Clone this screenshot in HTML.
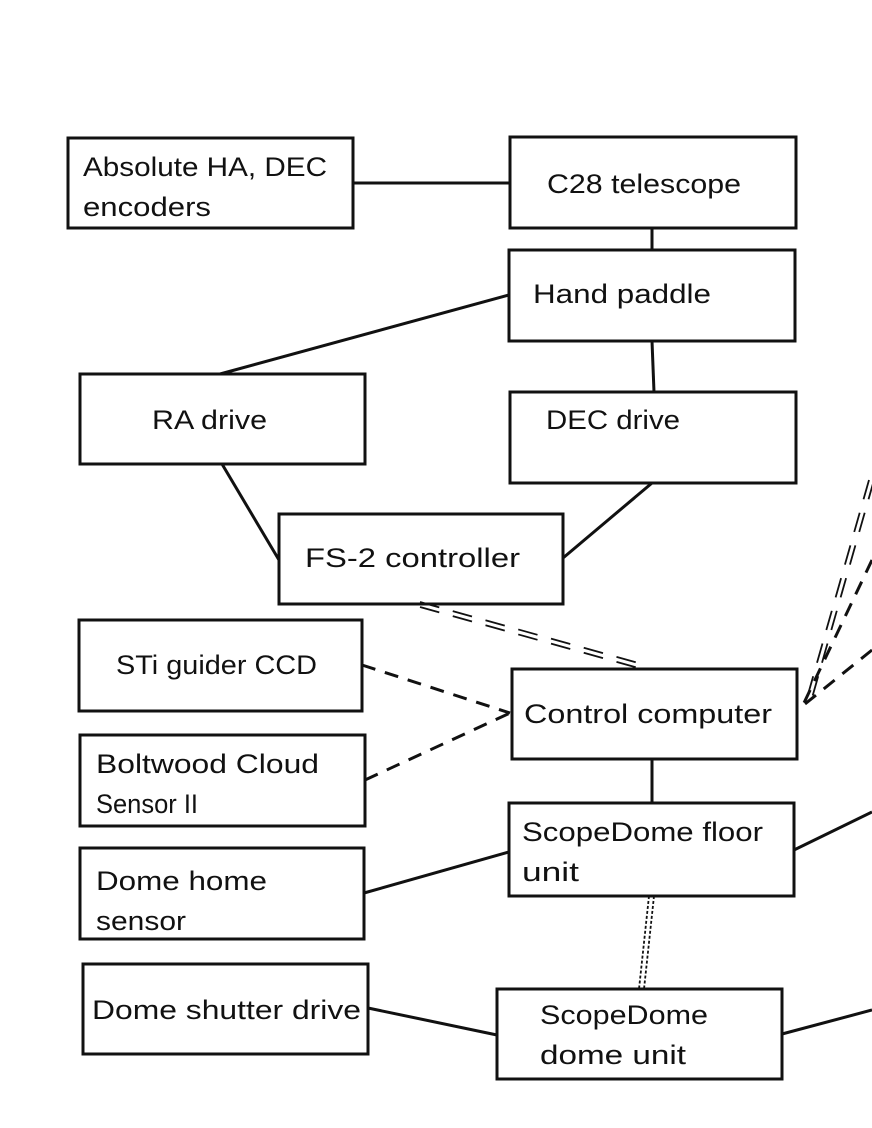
<!DOCTYPE html>
<html><head><meta charset="utf-8"><style>html,body{margin:0;padding:0;background:#fff}svg{display:block}</style></head>
<body>
<svg width="872" height="1128" viewBox="0 0 872 1128" xmlns="http://www.w3.org/2000/svg" font-family="Liberation Sans, sans-serif" font-size="27" fill="#111">
<g stroke="#111" stroke-width="3" fill="none">
<line x1="353" y1="183" x2="510" y2="183"/>
<line x1="652" y1="228" x2="652" y2="250"/>
<line x1="509" y1="295" x2="220" y2="374"/>
<line x1="652" y1="341" x2="654" y2="392"/>
<line x1="222" y1="464" x2="279" y2="560"/>
<line x1="652" y1="483" x2="563" y2="558"/>
<line x1="652" y1="759" x2="652" y2="803"/>
<line x1="364" y1="893" x2="509" y2="852"/>
<line x1="368" y1="1008" x2="497" y2="1035"/>
<line x1="794" y1="850" x2="872" y2="812"/>
<line x1="782" y1="1034" x2="872" y2="1010"/>
<g stroke-dasharray="14,10">
<line x1="362" y1="665" x2="510" y2="713"/>
<line x1="365" y1="780" x2="510" y2="713"/>
<line x1="872" y1="560" x2="803" y2="705"/>
<line x1="872" y1="650" x2="800" y2="708"/>
</g>
<g stroke-width="1.8" stroke-dasharray="20,14">
<line x1="420" y1="602" x2="642" y2="664"/>
<line x1="420" y1="607" x2="642" y2="669"/>
<line x1="869" y1="480" x2="805" y2="705"/>
<line x1="874" y1="480" x2="810" y2="705"/>
</g>
<g stroke-width="1.8" stroke-dasharray="3,2">
<line x1="649" y1="896" x2="639" y2="989"/>
<line x1="654" y1="896" x2="644" y2="989"/>
</g>
<rect x="68" y="138" width="285" height="90"/>
<rect x="510" y="137" width="286" height="91"/>
<rect x="509" y="250" width="286" height="91"/>
<rect x="80" y="374" width="285" height="90"/>
<rect x="510" y="392" width="286" height="91"/>
<rect x="279" y="514" width="284" height="90"/>
<rect x="79" y="620" width="283" height="91"/>
<rect x="512" y="669" width="285" height="90"/>
<rect x="80" y="735" width="285" height="91"/>
<rect x="509" y="803" width="285" height="93"/>
<rect x="80" y="848" width="284" height="91"/>
<rect x="83" y="964" width="285" height="90"/>
<rect x="497" y="989" width="285" height="90"/>
</g>
<g>
<text x="83" y="176" textLength="244" lengthAdjust="spacingAndGlyphs">Absolute HA, DEC</text>
<text x="83" y="216" textLength="128" lengthAdjust="spacingAndGlyphs">encoders</text>
<text x="547" y="193" textLength="194" lengthAdjust="spacingAndGlyphs">C28 telescope</text>
<text x="533" y="303" textLength="178" lengthAdjust="spacingAndGlyphs">Hand paddle</text>
<text x="152" y="429" textLength="115" lengthAdjust="spacingAndGlyphs">RA drive</text>
<text x="546" y="429" textLength="134" lengthAdjust="spacingAndGlyphs">DEC drive</text>
<text x="305" y="567" textLength="215" lengthAdjust="spacingAndGlyphs">FS-2 controller</text>
<text x="116" y="674" textLength="201" lengthAdjust="spacingAndGlyphs">STi guider CCD</text>
<text x="524" y="723" textLength="248" lengthAdjust="spacingAndGlyphs">Control computer</text>
<text x="96" y="773" textLength="223" lengthAdjust="spacingAndGlyphs">Boltwood Cloud</text>
<text x="96" y="813" textLength="102" lengthAdjust="spacingAndGlyphs">Sensor II</text>
<text x="522" y="841" textLength="241" lengthAdjust="spacingAndGlyphs">ScopeDome floor</text>
<text x="522" y="881" textLength="57" lengthAdjust="spacingAndGlyphs">unit</text>
<text x="96" y="890" textLength="171" lengthAdjust="spacingAndGlyphs">Dome home</text>
<text x="96" y="930" textLength="90" lengthAdjust="spacingAndGlyphs">sensor</text>
<text x="92" y="1019" textLength="269" lengthAdjust="spacingAndGlyphs">Dome shutter drive</text>
<text x="540" y="1024" textLength="168" lengthAdjust="spacingAndGlyphs">ScopeDome</text>
<text x="540" y="1064" textLength="146" lengthAdjust="spacingAndGlyphs">dome unit</text>
</g>
</svg>
</body></html>
